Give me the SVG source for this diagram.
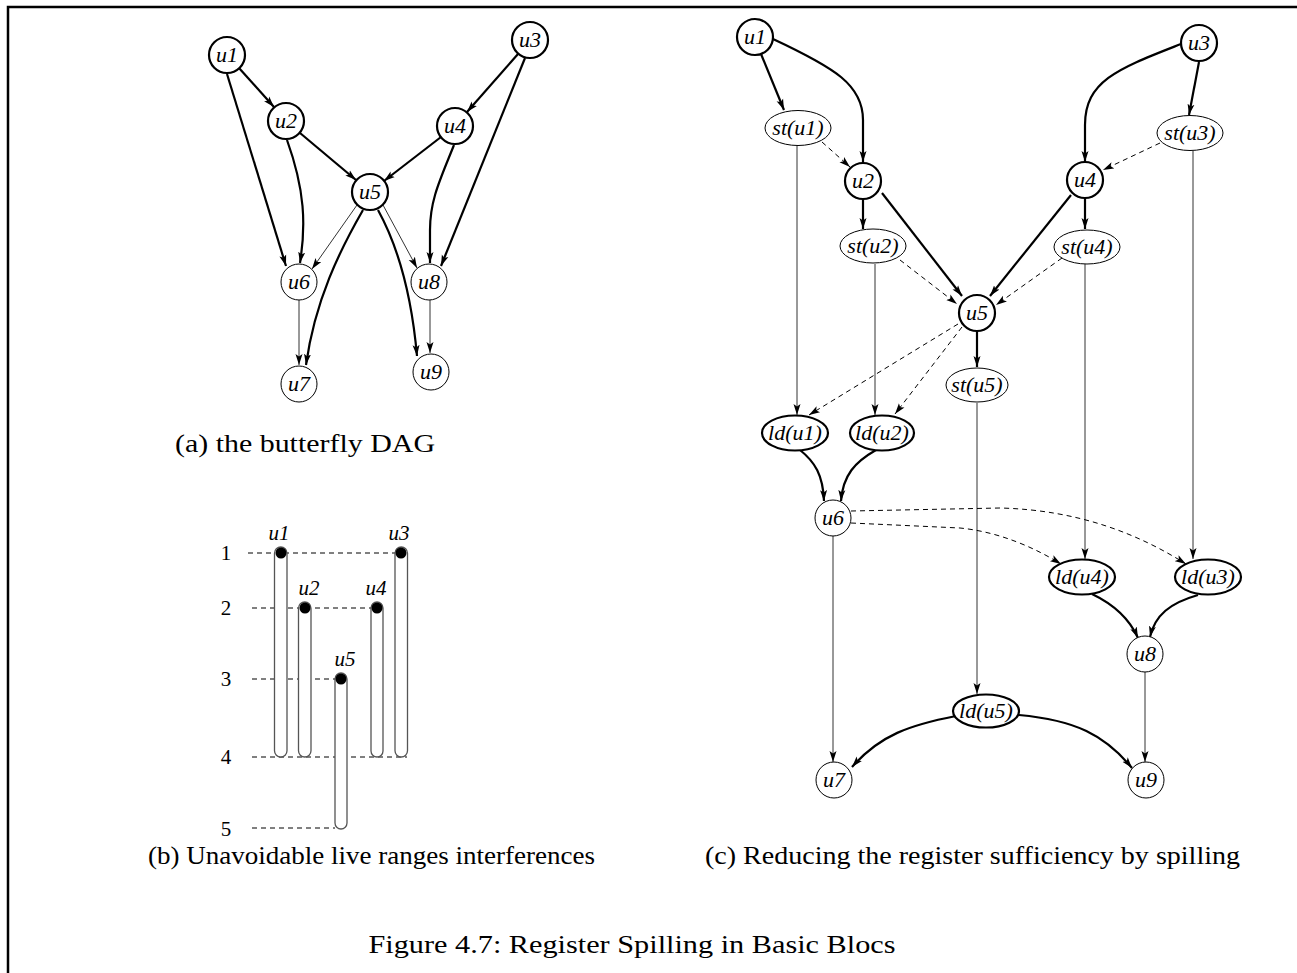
<svg xmlns="http://www.w3.org/2000/svg" width="1297" height="973" viewBox="0 0 1297 973">
<style>
.thick{fill:none;stroke:#000;stroke-width:2.2}
.thin{fill:none;stroke:#333;stroke-width:1}
.dash{fill:none;stroke:#000;stroke-width:1;stroke-dasharray:5,4}
.nthick{fill:#fff;stroke:#000;stroke-width:2.2}
.nthin{fill:#fff;stroke:#000;stroke-width:1}
.lbl{font-family:"Liberation Serif",serif;font-style:italic;font-size:22px;text-anchor:middle;fill:#000}
.blbl{font-family:"Liberation Serif",serif;font-style:italic;font-size:21px;text-anchor:middle;fill:#000}
.num{font-family:"Liberation Serif",serif;font-size:21px;text-anchor:middle;fill:#000}
.cap{font-family:"Liberation Serif",serif;font-size:26px;fill:#000}
.bar{fill:#fff;stroke:#555;stroke-width:1.3}
</style>
<defs>
<marker id="ah" markerWidth="12" markerHeight="8" refX="11" refY="4" orient="auto" markerUnits="userSpaceOnUse"><path d="M0,0.5 L11,4 L0,7.5 L2.5,4 z" fill="#000"/></marker>
</defs>
<rect width="1297" height="973" fill="#fff"/>
<path d="M8,973 V7 H1297" fill="none" stroke="#000" stroke-width="2.5"/>

<g id="connectors-a">
<path class="thick" d="M239,68 L274,107" marker-end="url(#ah)"/>
<path class="thick" d="M227,74 L286,266" marker-end="url(#ah)"/>
<path class="thick" d="M287,140 C305,190 306,225 300,263" marker-end="url(#ah)"/>
<path class="thick" d="M300,133 L356,180" marker-end="url(#ah)"/>
<path class="thick" d="M518,54 L467,112" marker-end="url(#ah)"/>
<path class="thick" d="M525,58 L441,266" marker-end="url(#ah)"/>
<path class="thick" d="M441,137 L384,181" marker-end="url(#ah)"/>
<path class="thick" d="M454,145 C440,180 430,200 430,230 L430,263" marker-end="url(#ah)"/>
<path class="thin" d="M357,205 L312,269" marker-end="url(#ah)"/>
<path class="thin" d="M383,205 L417,268" marker-end="url(#ah)"/>
<path class="thick" d="M363,210 C340,250 315,300 306,365" marker-end="url(#ah)"/>
<path class="thick" d="M378,210 C400,250 412,300 417,356" marker-end="url(#ah)"/>
<path class="thin" d="M299,300 L299,365" marker-end="url(#ah)"/>
<path class="thin" d="M430,300 L430,353" marker-end="url(#ah)"/>
</g>
<g id="a-u1"><circle class="nthick" cx="227" cy="55" r="18"/><text class="lbl" x="227" y="62">u1</text></g>
<g id="a-u2"><circle class="nthick" cx="286" cy="121" r="18"/><text class="lbl" x="286" y="128">u2</text></g>
<g id="a-u3"><circle class="nthick" cx="530" cy="40" r="18"/><text class="lbl" x="530" y="47">u3</text></g>
<g id="a-u4"><circle class="nthick" cx="455" cy="126" r="18"/><text class="lbl" x="455" y="133">u4</text></g>
<g id="a-u5"><circle class="nthick" cx="370" cy="192" r="18"/><text class="lbl" x="370" y="199">u5</text></g>
<g id="a-u6"><circle class="nthin" cx="299" cy="282" r="18"/><text class="lbl" x="299" y="289">u6</text></g>
<g id="a-u8"><circle class="nthin" cx="429" cy="282" r="18"/><text class="lbl" x="429" y="289">u8</text></g>
<g id="a-u7"><circle class="nthin" cx="299" cy="384" r="18"/><text class="lbl" x="299" y="391">u7</text></g>
<g id="a-u9"><circle class="nthin" cx="431" cy="372" r="18"/><text class="lbl" x="431" y="379">u9</text></g>
<text class="cap" x="175" y="452" textLength="260" lengthAdjust="spacingAndGlyphs">(a) the butterfly DAG</text>

<g id="part-b">
<path class="dash" d="M248,553 H400 M252,608 H377 M252,679 H341 M252,757 H407 M252,828 H335"/>
<rect class="bar" x="274.5" y="547" width="12.5" height="210" rx="6.25"/>
<rect class="bar" x="298.5" y="602" width="12.5" height="155" rx="6.25"/>
<rect class="bar" x="335" y="673" width="12" height="156" rx="6"/>
<rect class="bar" x="371" y="602" width="12" height="155" rx="6"/>
<rect class="bar" x="395" y="547" width="12.5" height="210" rx="6.25"/>
<circle cx="281" cy="553" r="5.5"/><circle cx="305" cy="608" r="5.5"/><circle cx="341" cy="679" r="5.5"/><circle cx="377" cy="608" r="5.5"/><circle cx="401" cy="553" r="5.5"/>
<text class="blbl" x="279" y="540">u1</text><text class="blbl" x="399" y="540">u3</text>
<text class="blbl" x="309" y="595">u2</text><text class="blbl" x="376" y="595">u4</text>
<text class="blbl" x="345" y="666">u5</text>
<text class="num" x="226" y="560">1</text><text class="num" x="226" y="615">2</text><text class="num" x="226" y="686">3</text><text class="num" x="226" y="764">4</text><text class="num" x="226" y="836">5</text>
</g>
<text class="cap" x="148" y="864" textLength="447" lengthAdjust="spacingAndGlyphs">(b) Unavoidable live ranges interferences</text>

<g id="connectors-c">
<path class="thick" d="M761,54 L784,110" marker-end="url(#ah)"/>
<path class="thick" d="M773,39 C835,68 863,85 863,120 L863,162" marker-end="url(#ah)"/>
<path class="dash" d="M822,142 L850,167" marker-end="url(#ah)"/>
<path class="thin" d="M797,146 L797,415" marker-end="url(#ah)"/>
<path class="thick" d="M863,199 L863,229" marker-end="url(#ah)"/>
<path class="thick" d="M882,193 L962,296" marker-end="url(#ah)"/>
<path class="dash" d="M900,260 L957,304" marker-end="url(#ah)"/>
<path class="thin" d="M875,264 L875,415" marker-end="url(#ah)"/>
<path class="thick" d="M1181,44 C1120,68 1085,80 1085,125 L1085,162" marker-end="url(#ah)"/>
<path class="thick" d="M1199,62 L1189,115" marker-end="url(#ah)"/>
<path class="dash" d="M1160,143 L1103,170" marker-end="url(#ah)"/>
<path class="thick" d="M1071,195 L990,296" marker-end="url(#ah)"/>
<path class="thick" d="M1085,198 L1085,229" marker-end="url(#ah)"/>
<path class="dash" d="M1062,258 L996,305" marker-end="url(#ah)"/>
<path class="thin" d="M1085,264 L1085,559" marker-end="url(#ah)"/>
<path class="thin" d="M1193,151 L1193,559" marker-end="url(#ah)"/>
<path class="thick" d="M977,331 L977,367" marker-end="url(#ah)"/>
<path class="dash" d="M958,324 L809,415" marker-end="url(#ah)"/>
<path class="dash" d="M962,327 L895,414" marker-end="url(#ah)"/>
<path class="thin" d="M977,403 L977,694" marker-end="url(#ah)"/>
<path class="thick" d="M800,450 C815,462 823,475 824,501" marker-end="url(#ah)"/>
<path class="thick" d="M876,450 C855,462 843,475 841,501" marker-end="url(#ah)"/>
<path class="dash" d="M851,523 L960,528 C1000,532 1035,548 1061,564" marker-end="url(#ah)"/>
<path class="dash" d="M851,511 L1000,508 C1080,510 1140,535 1186,564" marker-end="url(#ah)"/>
<path class="thin" d="M833,536 L833,762" marker-end="url(#ah)"/>
<path class="thick" d="M1092,594 C1115,605 1130,620 1138,638" marker-end="url(#ah)"/>
<path class="thick" d="M1198,595 C1170,603 1155,615 1150,637" marker-end="url(#ah)"/>
<path class="thin" d="M1145,672 L1145,762" marker-end="url(#ah)"/>
<path class="thick" d="M956,716 C910,725 880,735 852,767" marker-end="url(#ah)"/>
<path class="thick" d="M1019,715 C1075,720 1105,735 1132,768" marker-end="url(#ah)"/>
</g>
<g id="c-u1"><circle class="nthick" cx="755" cy="37" r="18"/><text class="lbl" x="755" y="44">u1</text></g>
<g id="c-st-u1"><ellipse class="nthin" cx="798" cy="128" rx="33" ry="17.5"/><text class="lbl" x="798" y="135">st(u1)</text></g>
<g id="c-u2"><circle class="nthick" cx="863" cy="181" r="18"/><text class="lbl" x="863" y="188">u2</text></g>
<g id="c-st-u2"><ellipse class="nthin" cx="873" cy="246" rx="33" ry="17"/><text class="lbl" x="873" y="253">st(u2)</text></g>
<g id="c-u3"><circle class="nthick" cx="1199" cy="43" r="18"/><text class="lbl" x="1199" y="50">u3</text></g>
<g id="c-st-u3"><ellipse class="nthin" cx="1190" cy="133" rx="33" ry="17.5"/><text class="lbl" x="1190" y="140">st(u3)</text></g>
<g id="c-u4"><circle class="nthick" cx="1085" cy="180" r="18"/><text class="lbl" x="1085" y="187">u4</text></g>
<g id="c-st-u4"><ellipse class="nthin" cx="1087" cy="247" rx="33" ry="17"/><text class="lbl" x="1087" y="254">st(u4)</text></g>
<g id="c-u5"><circle class="nthick" cx="977" cy="313" r="18"/><text class="lbl" x="977" y="320">u5</text></g>
<g id="c-st-u5"><ellipse class="nthin" cx="977" cy="385" rx="31" ry="17"/><text class="lbl" x="977" y="392">st(u5)</text></g>
<g id="c-ld-u1"><ellipse class="nthick" cx="795" cy="433" rx="33" ry="17.5"/><text class="lbl" x="795" y="440">ld(u1)</text></g>
<g id="c-ld-u2"><ellipse class="nthick" cx="882" cy="433" rx="32" ry="17.5"/><text class="lbl" x="882" y="440">ld(u2)</text></g>
<g id="c-u6"><circle class="nthin" cx="833" cy="518" r="18"/><text class="lbl" x="833" y="525">u6</text></g>
<g id="c-ld-u4"><ellipse class="nthick" cx="1082" cy="577" rx="33" ry="17.5"/><text class="lbl" x="1082" y="584">ld(u4)</text></g>
<g id="c-ld-u3"><ellipse class="nthick" cx="1208" cy="577" rx="33" ry="17.5"/><text class="lbl" x="1208" y="584">ld(u3)</text></g>
<g id="c-u8"><circle class="nthin" cx="1145" cy="654" r="18"/><text class="lbl" x="1145" y="661">u8</text></g>
<g id="c-ld-u5"><ellipse class="nthick" cx="986" cy="711" rx="33" ry="16.5"/><text class="lbl" x="986" y="718">ld(u5)</text></g>
<g id="c-u7"><circle class="nthin" cx="834" cy="780" r="18"/><text class="lbl" x="834" y="787">u7</text></g>
<g id="c-u9"><circle class="nthin" cx="1146" cy="780" r="18"/><text class="lbl" x="1146" y="787">u9</text></g>
<text class="cap" x="705" y="864" textLength="535" lengthAdjust="spacingAndGlyphs">(c) Reducing the register sufficiency by spilling</text>

<text x="632" y="953" font-family="Liberation Serif, serif" font-size="25" text-anchor="middle" textLength="527" lengthAdjust="spacingAndGlyphs">Figure 4.7: Register Spilling in Basic Blocs</text>
</svg>
